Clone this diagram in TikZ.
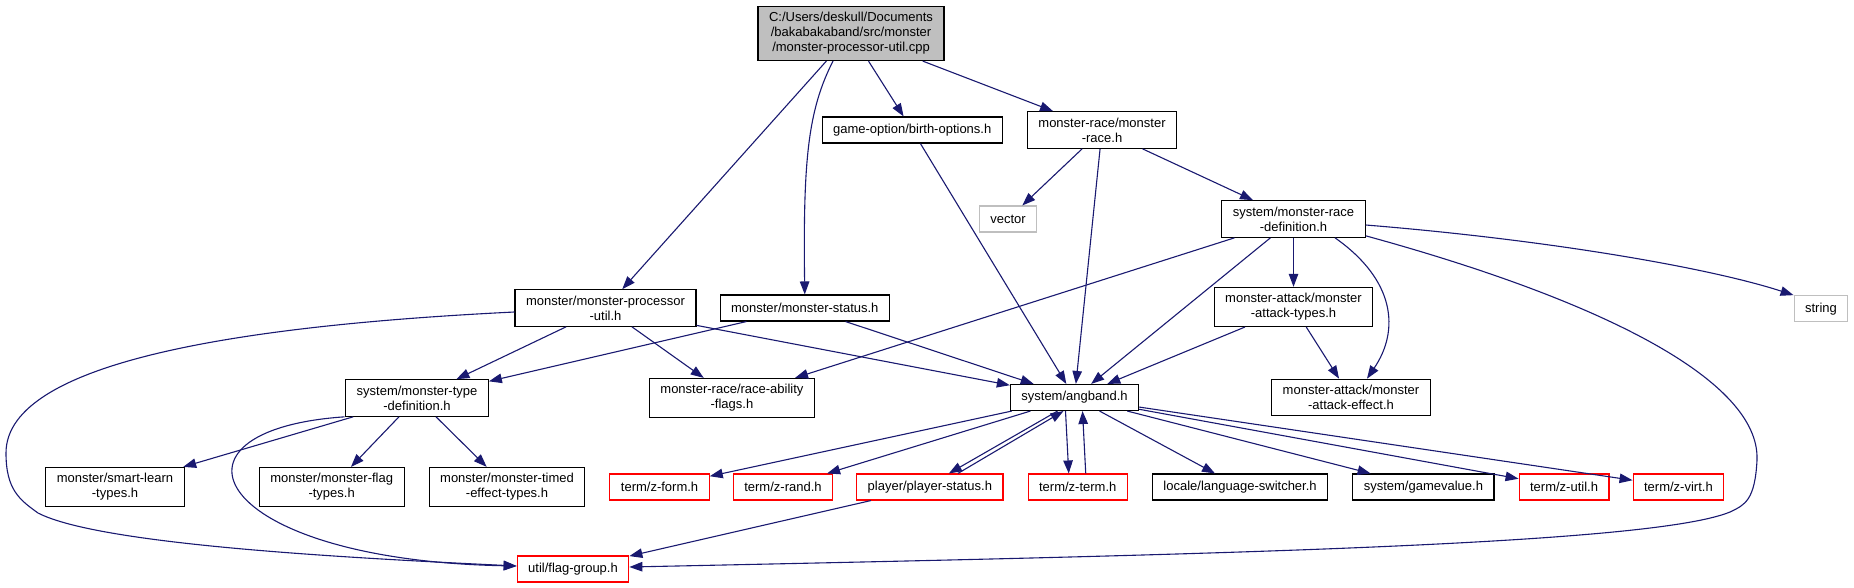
\documentclass[tikz,border=0pt]{standalone}
\usepackage{fontspec}
\setmainfont{Liberation Sans}
\usepackage{tikz}
\usetikzlibrary{arrows.meta,positioning}
\definecolor{edgeblue}{HTML}{191970}
\definecolor{greyfill}{HTML}{BFBFBF}

\begin{document}
\begin{tikzpicture}[
    x=1pt,y=-1pt,
    node distance=24pt,
    box/.style={draw=black,fill=white,line width=1.1pt,
      align=center,inner xsep=11pt,inner ysep=6pt,minimum height=26pt,
      font=\fontsize{13}{15}\selectfont},
    rootbox/.style={box,fill=greyfill},
    trunc/.style={box,draw=red},
    extern/.style={box,draw=greyfill},
    arrow/.style={-{Triangle[length=13pt,width=9.5pt]},draw=edgeblue,line width=1.1pt}
  ]
    \useasboundingbox (0,0) rectangle (1854,588);
    \node[rootbox] (root) at (851,33.5) {C:/Users/deskull/Documents\\/bakabakaband/src/monster\\/monster-processor-util.cpp};
    \node[box] (race) at (1102,130) {monster-race/monster\\-race.h};
    \node[box,left=of race] (birth) {game-option/birth-options.h};
    \node[box] (racedef) at (1293.5,219) {system/monster-race\\-definition.h};
    \node[extern,left=184pt of racedef] (vector) {vector};
    \node[box] (procutil) at (605.5,308) {monster/monster-processor\\-util.h};
    \node[box,right=23pt of procutil] (status) {monster/monster-status.h};
    \node[box,below=49pt of racedef] (atktypes) {monster-attack/monster\\-attack-types.h};
    \node[extern] (string) at (1821,308.7) {string};
    \node[box] (typedef) at (417,398) {system/monster-type\\-definition.h};
    \node[box,right=160pt of typedef] (ability) {monster-race/race-ability\\-flags.h};
    \node[box] (angband) at (1074.5,397.5) {system/angband.h};
    \node[box,right=132pt of angband] (atkeffect) {monster-attack/monster\\-attack-effect.h};
    \node[box] (smartlearn) at (115,487) {monster/smart-learn\\-types.h};
    \node[box,right=74pt of smartlearn] (flagtypes) {monster/monster-flag\\-types.h};
    \node[box,right=of flagtypes] (timed) {monster/monster-timed\\-effect-types.h};
    \node[trunc,right=of timed] (zform) {term/z-form.h};
    \node[trunc,right=23pt of zform] (zrand) {term/z-rand.h};
    \node[trunc,right=23pt of zrand] (pstatus) {player/player-status.h};
    \node[trunc,right=of pstatus] (zterm) {term/z-term.h};
    \node[box,right=of zterm] (langsw) {locale/language-switcher.h};
    \node[box,right=of langsw] (gamevalue) {system/gamevalue.h};
    \node[trunc,right=of gamevalue] (zutil) {term/z-util.h};
    \node[trunc,right=23pt of zutil] (zvirt) {term/z-virt.h};
    \node[trunc] (flaggroup) at (573,569) {util/flag-group.h};

    \draw[arrow] (root)--(procutil);
    \draw[arrow] ([xshift=-18pt]root.south) .. controls (808,110) and (803,160) .. (status.north);
    \draw[arrow] (root)--(birth);
    \draw[arrow] (root)--(race);
    \draw[arrow] (birth)--(angband);
    \draw[arrow] (race)--(vector);
    \draw[arrow] (race)--(angband);
    \draw[arrow] (race)--(racedef);
    \draw[arrow] (racedef)--(ability);
    \draw[arrow] (racedef)--(angband);
    \draw[arrow] (racedef)--(atktypes);
    \draw[arrow] ([xshift=41.5pt]racedef.south) .. controls (1395,280) and (1400,330) .. ([xshift=16pt]atkeffect.north);
    \draw[arrow] ([yshift=2pt]racedef.south east) .. controls (1600,300) and (1760,380) .. (1757,460)
      .. controls (1755,500) and (1745,505) .. (1730,512)
      .. controls (1650,545) and (1200,555) .. ([yshift=2pt]flaggroup.east);
    \draw[arrow] ([yshift=-6pt]racedef.east) .. controls (1550,240) and (1710,268) .. (string.north west);
    \draw[arrow] ([yshift=-4pt]procutil.west) .. controls (250,325) and (6,360) .. (6,453)
      .. controls (6,490) and (20,500) .. (38,513)
      .. controls (100,545) and (350,558) .. ([yshift=3pt]flaggroup.west);
    \draw[arrow] (procutil)--(typedef);
    \draw[arrow] (procutil)--(ability);
    \draw[arrow] (procutil)--(angband);
    \draw[arrow] (status)--(typedef);
    \draw[arrow] (status)--(angband);
    \draw[arrow] (atktypes)--(angband);
    \draw[arrow] (atktypes)--(atkeffect);
    \draw[arrow] (typedef)--(smartlearn);
    \draw[arrow] (typedef)--(flagtypes);
    \draw[arrow] (typedef)--(timed);
    \draw[arrow] ([xshift=-0.5pt]typedef.south west) .. controls (150,430) and (210,560) .. ([yshift=3pt]flaggroup.west);
    \draw[arrow] (angband)--(zform);
    \draw[arrow] (angband)--(zrand);
    \draw[arrow] ([xshift=-17pt]angband.south)--([xshift=19pt]pstatus.north);
    \draw[arrow] ([xshift=28pt]pstatus.north)--([xshift=-11pt]angband.south);
    \draw[arrow] ([xshift=-9pt]angband.south)--([xshift=-9pt]zterm.north);
    \draw[arrow] ([xshift=8pt]zterm.north)--([xshift=8pt]angband.south);
    \draw[arrow] (angband)--(langsw);
    \draw[arrow] (angband)--(gamevalue);
    \draw[arrow] (angband)--(zutil);
    \draw[arrow] (angband)--(zvirt);
    \draw[arrow] (pstatus)--(flaggroup);
  \end{tikzpicture}
\end{document}
